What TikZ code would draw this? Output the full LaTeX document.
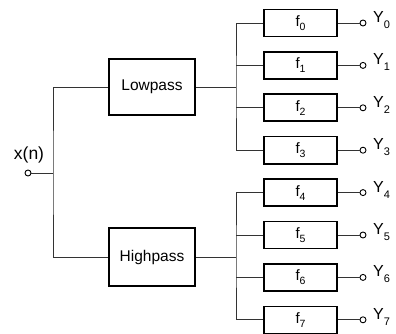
\documentclass[tikz,border=0pt]{standalone}
\usepackage{fontspec}
\setmainfont{Liberation Sans}
\begin{document}
\begin{tikzpicture}[x=1pt,y=-1pt,
 blk/.style={draw, line width=1.6pt, minimum width=73pt, minimum height=27pt, inner sep=0pt, font=\fontsize{15}{15}\selectfont},
 big/.style={blk, minimum width=86pt, minimum height=56pt, font=\fontsize{15.5}{15.5}\selectfont},
 wire/.style={line width=0.9pt, draw=black!80},
 port/.style={circle, draw, line width=0.9pt, minimum size=6pt, inner sep=0pt},
 lbl/.style={font=\fontsize{16}{16}\selectfont, inner sep=0pt}]
\useasboundingbox (0,0) rectangle (396,334);
\node[big] (lp) at (152,87) {Lowpass};
\node[big, minimum height=58pt] (hp) at (152,257) {Highpass};
\node[port] (in) at (28,173) {};
\node[lbl, anchor=south, font=\fontsize{17.5}{17.5}\selectfont] (xn) at (29,163) {x(n)};
\coordinate (j) at (53,173);
\draw[wire] (in) -- (j);
\draw[wire] (lp.west) -| (j) |- (hp.west);
\foreach \i in {0,...,7}{
  \pgfmathsetmacro{\yy}{23+42.4*\i}
  \node[blk] (f\i) at (300.5,\yy) {f\raisebox{-4pt}{\fontsize{10.5}{10.5}\selectfont\i}};
  \node[port] (o\i) at (363,\yy) {};
  \node[lbl, anchor=west] (y\i) at (373,\yy-3) {Y\raisebox{-6pt}{\fontsize{11}{11}\selectfont\i}};
  \draw[wire] (f\i.east) -- (o\i);
}
\coordinate (b1) at (236,87);
\coordinate (b2) at (236,257);
\draw[wire] (lp.east) -- (b1);
\draw[wire] (f0.west) -| (b1) |- (f3.west);
\draw[wire] (f1.west) -- (b1 |- f1);
\draw[wire] (f2.west) -- (b1 |- f2);
\draw[wire] (hp.east) -- (b2);
\draw[wire] (f4.west) -| (b2) |- (f7.west);
\draw[wire] (f5.west) -- (b2 |- f5);
\draw[wire] (f6.west) -- (b2 |- f6);
\end{tikzpicture}
\end{document}
